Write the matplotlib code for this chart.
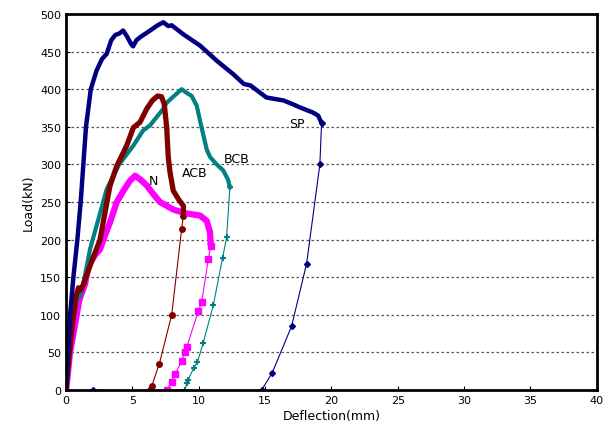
import numpy as np
import matplotlib.pyplot as plt

# SP specimen
sp_x = [0, 0.15, 0.3, 0.55, 0.85, 1.1, 1.3, 1.5, 1.86, 2.3, 2.7, 3.06, 3.4, 3.7, 4.0, 4.3,
        4.6, 4.9, 5.05, 5.3, 5.57, 6.33, 6.9, 7.33, 7.7, 7.96, 8.84, 10.1, 11.35, 12.6,
        13.4, 13.9, 15.1, 16.4, 17.1, 17.6, 18.6, 19.0, 19.26]
sp_y = [0, 50, 100, 150, 200, 250, 300, 350, 400, 425, 440, 447, 465, 472, 474, 478,
        470, 460, 457, 465, 469, 478, 485, 489, 484, 485, 473, 458, 438, 420,
        407, 405, 389, 385, 380, 376, 369, 365, 355]
sp_ux = [19.26, 19.13, 18.13, 17.0, 15.54, 14.74]
sp_uy = [355, 300, 168, 85, 23, 0]

# ACB specimen
acb_x = [0, 0.25, 0.5, 0.75, 0.93, 1.1, 1.3, 1.8, 2.56, 3.3, 3.82, 4.57, 5.07, 5.57,
         6.08, 6.5, 6.9, 7.2, 7.4, 7.58, 7.7, 7.83, 8.08, 8.5, 8.84, 8.85]
acb_y = [0, 50, 90, 125, 136, 133, 140, 165, 200, 271, 298, 325, 349, 356,
         374, 385, 391, 390, 380, 350, 310, 290, 265, 253, 245, 232]
acb_ux = [8.84, 8.71, 7.96, 7.03, 6.45, 6.33]
acb_uy = [232, 214, 100, 35, 5, 0]

# BCB specimen
bcb_x = [0, 0.3, 0.6, 0.8, 1.05, 1.4, 1.8, 2.4, 3.06, 4.0, 5.07, 5.8, 6.33, 7.33, 7.58,
         8.2, 8.71, 9.1, 9.47, 9.85, 10.2, 10.6, 10.85, 11.35, 11.85, 12.2, 12.35]
bcb_y = [0, 60, 100, 120, 125, 150, 187, 225, 267, 300, 325, 345, 352, 374, 382,
         392, 400, 395, 391, 378, 350, 320, 310, 300, 292, 280, 270]
bcb_ux = [12.35, 12.1, 11.8, 11.1, 10.34, 9.9, 9.64, 9.21, 9.09, 8.96]
bcb_uy = [270, 203, 176, 113, 63, 37, 30, 14, 9, 0]

# N specimen
n_x = [0, 0.3, 0.5, 0.7, 1.0, 1.43, 1.68, 2.2, 2.56, 2.81, 3.31, 3.82, 4.32, 4.8, 5.2,
       5.6, 6.08, 6.6, 7.08, 8.08, 9.0, 10.1, 10.6, 10.85, 10.9]
n_y = [0, 50, 70, 90, 120, 141, 165, 180, 187, 200, 223, 250, 265, 278, 285,
       280, 272, 260, 250, 240, 235, 232, 225, 210, 192]
n_ux = [10.9, 10.72, 10.22, 9.97, 9.09, 8.96, 8.71, 8.21, 7.96, 7.58]
n_uy = [192, 174, 117, 105, 57, 51, 38, 21, 11, 0]

labels = ["SP", "BCB", "ACB", "N"]
label_pos = [(17.4, 355), (12.85, 308), (9.7, 289), (6.6, 278)]

plt.rcParams['font.family'] = ['DejaVu Sans']
fig = plt.figure(figsize=(6.12, 4.35), dpi=100)
ax = fig.add_axes([0.108, 0.101, 0.867, 0.8645])

for yv in range(50, 500, 50):
    ax.axhline(yv, color='#555555', lw=0.9, ls=(0, (2, 2)), zorder=1)

# thin unloading branches
ax.plot(sp_ux, sp_uy, color='#000080', lw=0.8, marker='D', ms=3)
ax.plot([2.0], [0], color='#000080', marker='D', ms=3, ls='none')
ax.plot(acb_ux, acb_uy, color='#800000', lw=0.8, marker='o', ms=4)
ax.plot(bcb_ux, bcb_uy, color='#008080', lw=0.8, marker='+', ms=5, mew=1.5)
ax.plot(n_ux, n_uy, color='#FF00FF', lw=0.8, marker='s', ms=5)

# thick envelopes
ax.plot(n_x, n_y, color='#FF00FF', lw=4.5, solid_capstyle='butt')
ax.plot(bcb_x, bcb_y, color='#008080', lw=3)
ax.plot(acb_x, acb_y, color='#800000', lw=3.8)
ax.plot(sp_x, sp_y, color='#000080', lw=3.2)

for t, (lx, ly) in zip(labels, label_pos):
    ax.text(lx, ly, t, fontsize=9, ha='center', va='center')

ax.set_xlim(0, 40)
ax.set_ylim(0, 500)
ax.set_xticks(np.arange(0, 41, 5))
ax.set_yticks(np.arange(0, 501, 50))
ax.tick_params(direction='in', labelsize=8, length=3)
for s in ax.spines.values():
    s.set_linewidth(2)
ax.set_xlabel("Deflection(mm)", fontsize=9, labelpad=3)
ax.set_ylabel("Load(kN)", fontsize=9, labelpad=4)

fig.savefig("out.png", dpi=100)
